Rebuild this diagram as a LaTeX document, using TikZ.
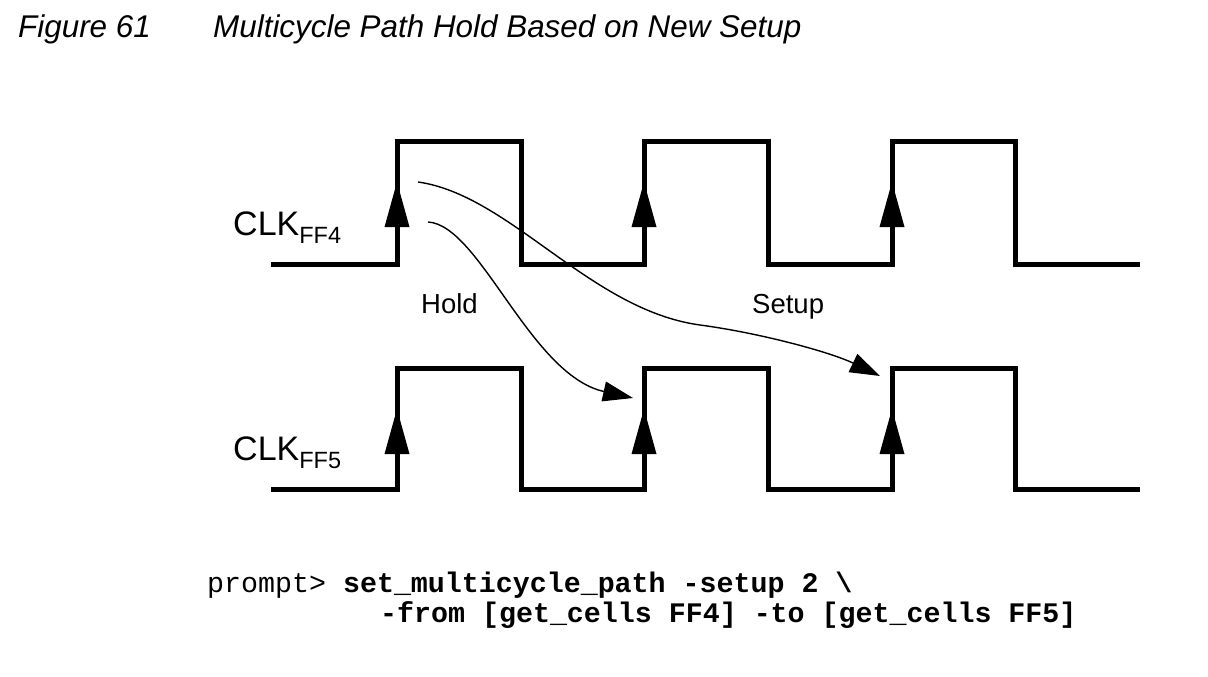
\documentclass[tikz,border=0pt]{standalone}
\usepackage{fontspec}
\setmainfont{Liberation Sans}
\setmonofont{Liberation Mono}
\usetikzlibrary{arrows.meta}
\begin{document}
\begin{tikzpicture}[x=1pt,y=-1pt,
  wave/.style={line width=5pt, line join=miter, line cap=butt},
  edgetip/.style={fill=black, draw=none},
  flow/.style={line width=1.4pt, -{Triangle[length=30pt,width=20pt]}},
  lbl/.style={inner sep=0pt, anchor=base west, font=\fontsize{27.5}{27.5}\selectfont},
  clk/.style={inner sep=0pt, anchor=base west, font=\fontsize{34}{34}\selectfont},
  ttl/.style={inner sep=0pt, anchor=base west, font=\fontsize{31.4}{31.4}\selectfont\itshape},
  code/.style={inner sep=0pt, anchor=base west, font=\fontsize{28.3}{28.3}\selectfont\ttfamily}]
\useasboundingbox (0,0) rectangle (1208,677);

% titles
\node[ttl] (fignum) at (18,38) {Figure 61};
\node[ttl] (figtitle) at (213,38) {Multicycle Path Hold Based on New Setup};

% waveforms
\foreach \hi/\lo in {141/264, 368/489}{
  \draw[wave] (271,\lo) -- (397,\lo) -- (397,\hi) -- (521,\hi) -- (521,\lo)
    -- (644,\lo) -- (644,\hi) -- (768,\hi) -- (768,\lo)
    -- (892,\lo) -- (892,\hi) -- (1015,\hi) -- (1015,\lo) -- (1140,\lo);
  \foreach \x in {397,644,892}{
    \fill[edgetip] (\x-12.5,\hi+86) -- (\x,\hi+41) -- (\x+12.5,\hi+86) -- cycle;
  }
}

% labels
\node[clk] (clk4) at (233,235) {CLK\raisebox{-8pt}{\fontsize{23.5}{23.5}\selectfont FF4}};
\node[clk] (clk5) at (233,460) {CLK\raisebox{-8pt}{\fontsize{23.5}{23.5}\selectfont FF5}};
\node[lbl] (hold) at (421,313) {Hold};
\node[lbl] (setup) at (752,313) {Setup};

% paths
\coordinate (setupA) at (418,182);
\coordinate (setupB) at (880,376);
\coordinate (holdA) at (428,222);
\coordinate (holdB) at (633,398);
\draw[flow] (setupA) .. controls (510,195) and (590,310) .. (700,325)
  .. controls (760,333) and (830,352) .. (setupB);
\draw[flow] (holdA) .. controls (480,225) and (530,375) .. (holdB);

% command
\node[code] (cmd1) at (207,592) {prompt> \textbf{set\_multicycle\_path -setup 2 \textbackslash}};
\node[code] (cmd2) at (380,622) {\textbf{-from [get\_cells FF4] -to [get\_cells FF5]}};
\end{tikzpicture}
\end{document}
